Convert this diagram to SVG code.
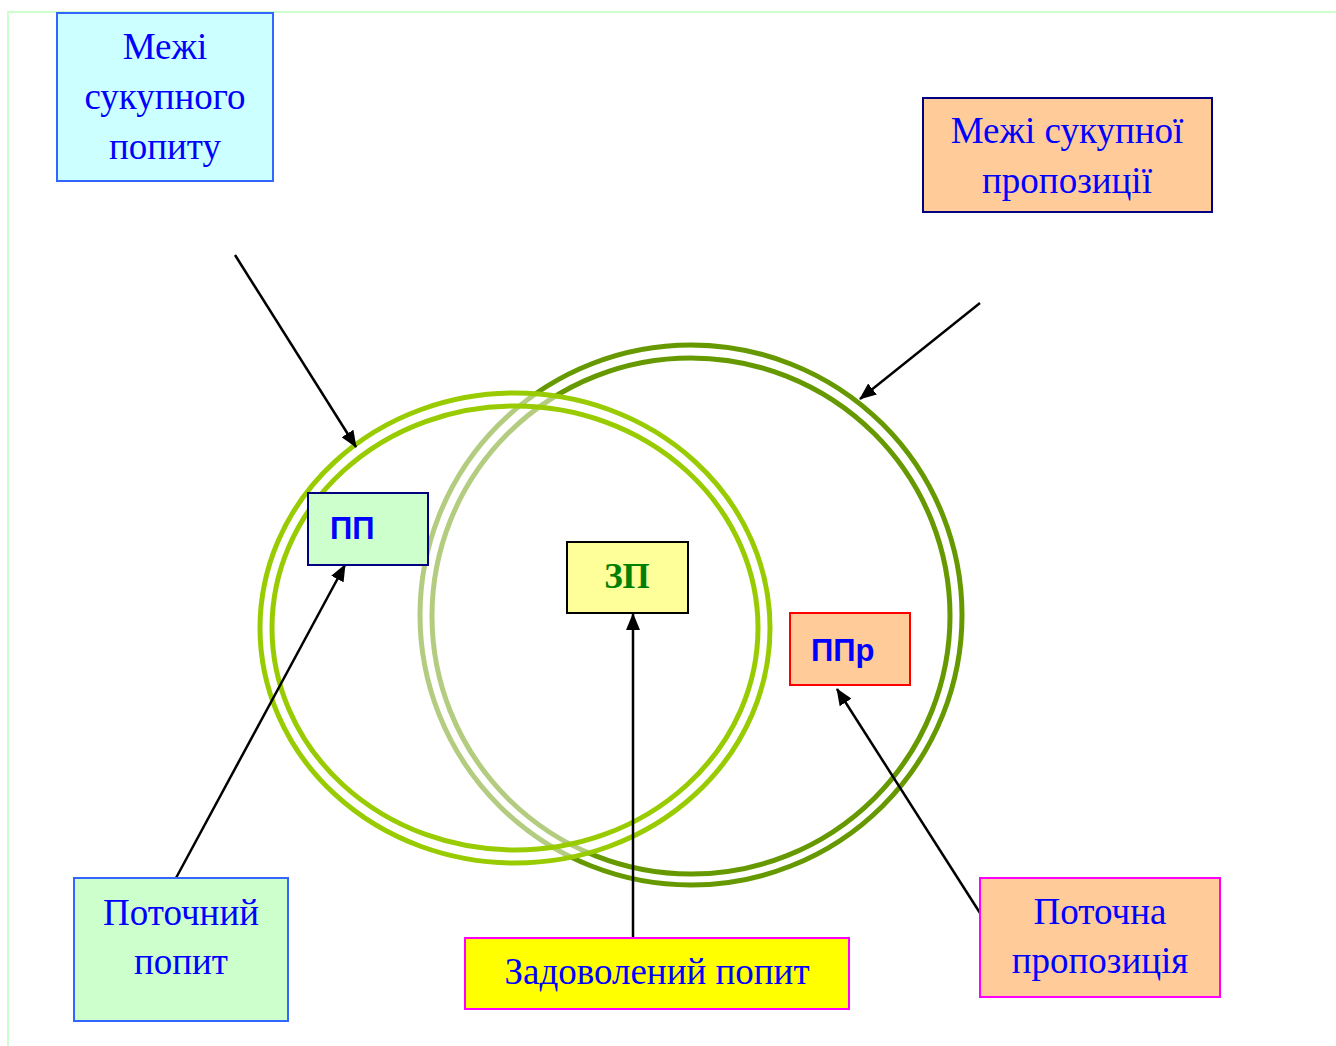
<svg xmlns="http://www.w3.org/2000/svg" width="1336" height="1046" viewBox="0 0 1336 1046">
<style>
.lbl{font-family:"Liberation Serif","Times New Roman",serif;font-size:37px;fill:#0000ff;text-anchor:middle}
.abbr{font-family:"Liberation Sans",Arial,sans-serif;font-size:31px;font-weight:bold;fill:#0000ff}
.conn line{stroke:#000;stroke-width:2.5;marker-end:url(#ah)}
</style>
<defs>
<marker id="ah" markerUnits="userSpaceOnUse" markerWidth="18" markerHeight="14" refX="16" refY="7" orient="auto">
<path d="M0,0 L17,7 L0,14 z" fill="#000"/>
</marker>
</defs>
<rect width="1336" height="1046" fill="#fff"/>
<path d="M8,1046 V12 H1336" fill="none" stroke="#ccffcc" stroke-width="2"/>

<g id="circle-supply">
<ellipse cx="691" cy="615" rx="271" ry="270" fill="none" stroke="#669900" stroke-width="5"/>
<ellipse cx="691" cy="616" rx="259" ry="258" fill="none" stroke="#669900" stroke-width="5"/>
</g>
<g id="circle-demand">
<ellipse cx="515" cy="628" rx="255" ry="235" fill="#fff" fill-opacity="0.5" stroke="#99cc00" stroke-width="5"/>
<ellipse cx="515" cy="628" rx="243" ry="222" fill="none" stroke="#99cc00" stroke-width="5"/>
</g>

<g id="conn" class="conn">
<line x1="235" y1="255" x2="356" y2="447"/>
<line x1="980" y1="303" x2="860" y2="399"/>
<line x1="176" y1="878" x2="345" y2="565"/>
<line x1="633" y1="938" x2="633" y2="614"/>
<line x1="980" y1="913" x2="837" y2="689"/>
</g>

<g id="n-mezhi-popytu">
<rect x="57" y="13" width="216" height="168" fill="#ccffff" stroke="#3366ff" stroke-width="2"/>
<text class="lbl" x="165" y="59">Межі</text>
<text class="lbl" x="165" y="109">сукупного</text>
<text class="lbl" x="165" y="159">попиту</text>
</g>
<g id="n-mezhi-propozytsii">
<rect x="923" y="98" width="289" height="114" fill="#ffcc99" stroke="#000080" stroke-width="2"/>
<text class="lbl" x="1067" y="143">Межі сукупної</text>
<text class="lbl" x="1067" y="193">пропозиції</text>
</g>
<g id="n-pp">
<rect x="308" y="493" width="120" height="72" fill="#ccffcc" stroke="#000080" stroke-width="2"/>
<text class="abbr" x="330" y="539">ПП</text>
</g>
<g id="n-zp">
<rect x="567" y="542" width="121" height="71" fill="#ffff99" stroke="#000" stroke-width="2"/>
<text x="627" y="588" text-anchor="middle" font-family="Liberation Serif,Times New Roman,serif" font-size="35" font-weight="bold" fill="#008000">ЗП</text>
</g>
<g id="n-ppr">
<rect x="790" y="613" width="120" height="72" fill="#ffcc99" stroke="#ff0000" stroke-width="2"/>
<text class="abbr" x="811" y="661">ППр</text>
</g>
<g id="n-potochnyi-popyt">
<rect x="74" y="878" width="214" height="143" fill="#ccffcc" stroke="#3366ff" stroke-width="2"/>
<text class="lbl" x="181" y="925">Поточний</text>
<text class="lbl" x="181" y="974">попит</text>
</g>
<g id="n-zadovolenyi-popyt">
<rect x="465" y="938" width="384" height="71" fill="#ffff00" stroke="#ff00ff" stroke-width="2"/>
<text class="lbl" x="657" y="984">Задоволений попит</text>
</g>
<g id="n-potochna-propozytsiia">
<rect x="980" y="878" width="240" height="119" fill="#ffcc99" stroke="#ff00ff" stroke-width="2"/>
<text class="lbl" x="1100" y="924">Поточна</text>
<text class="lbl" x="1100" y="973">пропозиція</text>
</g>
</svg>
